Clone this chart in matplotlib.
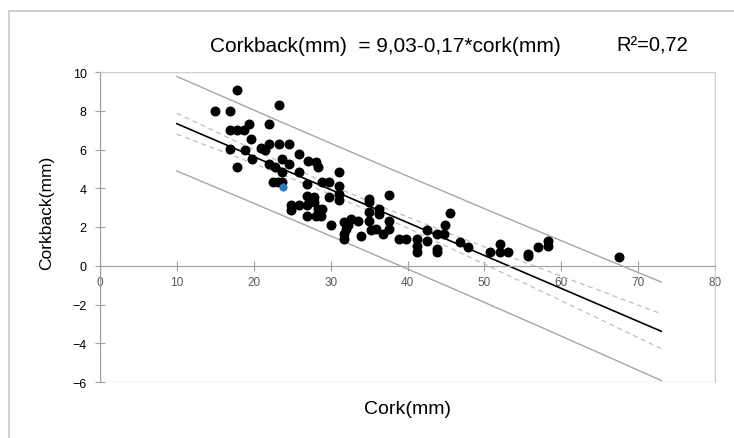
import numpy as np
import matplotlib
matplotlib.use("Agg")
import matplotlib.pyplot as plt
from matplotlib.patches import Rectangle

# data
cork = [17.8, 14.9, 16.9, 23.3, 16.9, 17.8, 18.7, 19.4, 22.0, 19.7, 16.9, 18.8, 20.9, 21.5,
        22.0, 23.3, 24.6, 19.8, 17.8, 22.0, 22.8, 23.7, 24.6, 25.9, 27.0, 23.7, 25.9,
        23.1, 23.7, 22.5, 26.9, 26.9, 24.8, 24.8, 25.9, 26.9, 26.9,
        28.1, 28.3, 31.1, 28.9, 29.8, 31.1, 31.1, 31.1, 29.8, 27.8, 27.8, 28.3, 28.9, 28.1,
        28.7, 30.0, 31.8, 32.2, 32.6, 33.5, 32.0, 31.8, 31.8, 33.9, 35.0, 35.0, 36.3, 36.3,
        37.6, 35.0, 35.0, 35.2, 35.9, 36.8, 37.6, 37.6, 38.9, 39.8, 41.3, 41.3, 41.3, 42.6,
        45.5, 44.9, 44.8, 43.9, 42.6, 43.9, 43.9, 46.8, 47.9, 50.7, 52.0, 52.0, 53.1, 55.7,
        55.7, 57.0, 58.3, 58.3, 67.5]
corkback = [9.05, 8.0, 8.0, 8.3, 7.0, 7.0, 7.0, 7.3, 7.3, 6.53, 6.03, 6.0, 6.07, 5.95,
            6.3, 6.3, 6.3, 5.5, 5.08, 5.26, 5.08, 5.5, 5.26, 5.77, 5.43, 4.82, 4.82,
            4.32, 4.32, 4.32, 4.22, 3.62, 3.11, 2.90, 3.14, 3.11, 2.59,
            5.35, 5.08, 4.82, 4.32, 4.32, 4.1, 3.71, 3.37, 3.54, 3.54, 3.28, 2.93, 2.93, 2.59,
            2.59, 2.08, 2.25, 2.08, 2.41, 2.33, 1.9, 1.64, 1.38, 1.56, 3.45, 3.28, 2.93, 2.67,
            3.63, 2.76, 2.33, 1.82, 1.9, 1.64, 2.33, 1.9, 1.38, 1.38, 1.38, 1.03, 0.69, 1.82,
            2.74, 2.11, 1.64, 1.64, 1.3, 0.87, 0.69, 1.21, 0.95, 0.69, 1.12, 0.69, 0.69, 0.6,
            0.52, 0.95, 1.3, 1.03, 0.43]
blue_pt = (23.8, 4.05)
intercept, slope = 9.03, -0.17
t_val = 1.985
x_range = (10, 73)

x = np.array(cork)
y = np.array(corkback)
n = len(x)
res = y - (intercept + slope * x)
s = np.sqrt(np.sum(res ** 2) / (n - 2))
xbar = x.mean()
sxx = np.sum((x - xbar) ** 2)

xs = np.linspace(x_range[0], x_range[1], 200)
yhat = intercept + slope * xs
ci = t_val * s * np.sqrt(1.0 / n + (xs - xbar) ** 2 / sxx)
pi = t_val * s * np.sqrt(1 + 1.0 / n + (xs - xbar) ** 2 / sxx)

plt.rcParams['font.family'] = ['Liberation Sans', 'DejaVu Sans']
fig = plt.figure(figsize=(7.34, 4.39), dpi=100)
ax = fig.add_axes([100 / 734, 1 - 383 / 439, 615 / 734, 310 / 439])

# outer chart frame
fig.patches.append(Rectangle((9 / 734, -0.2), 1.2, 1 - 12 / 439 + 0.2, transform=fig.transFigure,
                             fill=False, edgecolor='#c8c8c8', linewidth=1.2))

ax.plot(xs, yhat + pi, color='#a6a6a6', lw=1.0)
ax.plot(xs, yhat - pi, color='#a6a6a6', lw=1.0)
ax.plot(xs, yhat + ci, color='#bfbfbf', lw=0.9, ls='--', dashes=(4, 3))
ax.plot(xs, yhat - ci, color='#bfbfbf', lw=0.9, ls='--', dashes=(4, 3))
ax.plot(xs, yhat, color='black', lw=1.2)
ax.scatter(x, y, s=38, color='black', zorder=3)
ax.scatter([blue_pt[0]], [blue_pt[1]], s=24, color='#2e75b6', zorder=4)

ax.set_xlim(0, 80)
ax.set_ylim(-6, 10)
ax.set_xticks(range(0, 81, 10))
ax.set_yticks(range(-6, 11, 2))
ax.spines['bottom'].set_position(('data', 0))
for sp in ['bottom', 'left']:
    ax.spines[sp].set_color('#a0a0a0')
for sp in ['top', 'right']:
    ax.spines[sp].set_color('#d0d0d0')
ax.add_patch(Rectangle((0, 0), 1, 1, transform=ax.transAxes, fill=False,
                       edgecolor='#d0d0d0', lw=1.0))
ax.tick_params(axis='x', direction='inout', length=7, color='#a0a0a0', labelsize=8.5,
               labelcolor='#595959', pad=4)
ax.tick_params(axis='y', direction='inout', length=7, color='#a0a0a0', labelsize=9,
               labelcolor='black', pad=6)

ax.text(0.5, -0.085, 'Cork(mm)', transform=ax.transAxes, ha='center', va='center', fontsize=14)
ax.text(-0.086, 0.55, 'Corkback(mm)', transform=ax.transAxes, ha='center', va='center',
        rotation=90, fontsize=12.5)
fig.text(385 / 734, 1 - 46 / 439, 'Corkback(mm)  = 9,03-0,17*cork(mm)', ha='center', va='center',
         fontsize=15)
fig.text(652 / 734, 1 - 46 / 439, 'R²=0,72', ha='center', va='center', fontsize=14.5)

fig.savefig('out.png', dpi=100)
